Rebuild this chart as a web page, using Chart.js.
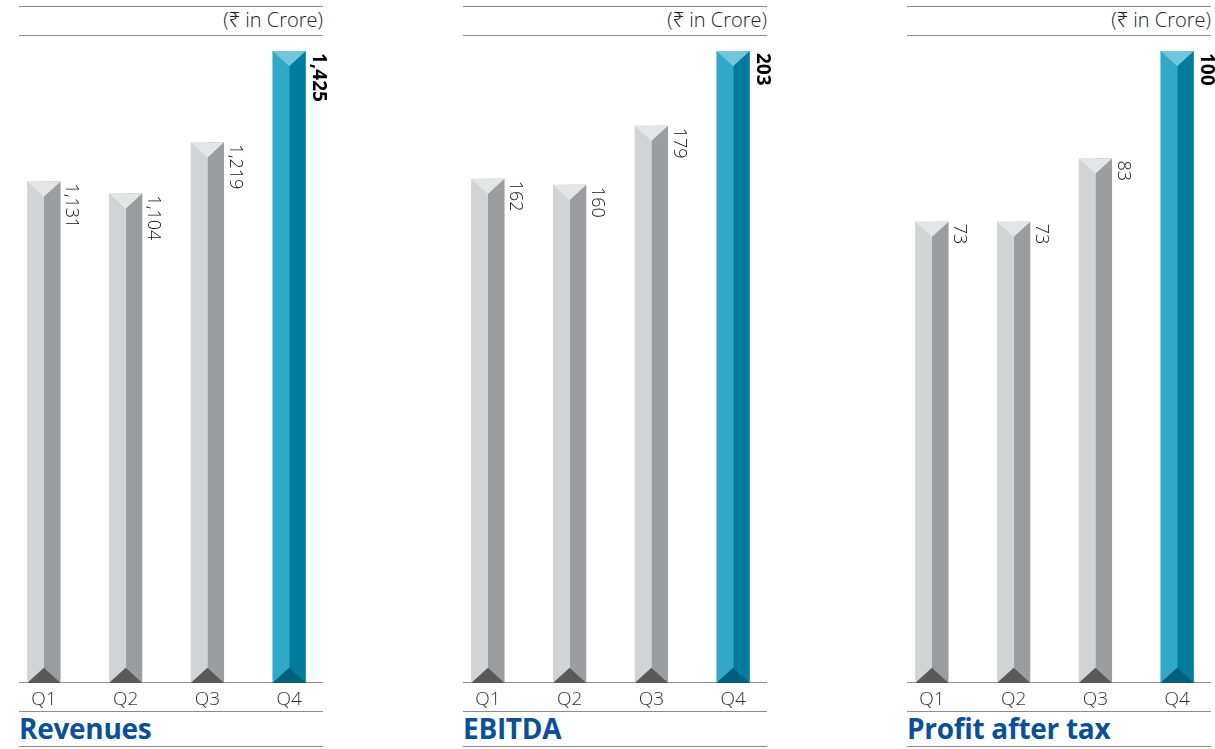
<!DOCTYPE html>
<html>
<head>
<meta charset="utf-8">
<script src="https://cdn.jsdelivr.net/npm/chart.js@4.4.1/dist/chart.umd.min.js"></script>
<style>
    body { margin: 0; width: 1215px; height: 749px; overflow: hidden; background: #fff; position: relative; font-family: "Open Sans", "Noto Sans", sans-serif; }
    .painel { position: absolute; top: 0; width: 304px; height: 749px; }
    .linha { position: absolute; left: 0; width: 304px; height: 1px; background: #8a8a8a; }
    .unidade { position: absolute; right: 0; top: 6px; font-size: 20px; font-weight: 300; color: #222; white-space: nowrap; }
    .titulo { position: absolute; left: 0; top: 709px; font-size: 28px; font-weight: 700; color: #0b4f95; letter-spacing: -0.3px; white-space: nowrap; }
    .painel canvas { position: absolute; left: -16px; top: 0; }
</style>
</head>
<body>
<script>
var trimestres = ['Q1', 'Q2', 'Q3', 'Q4'];
var receitas = [1131, 1104, 1219, 1425];
var ebitda = [162, 160, 179, 203];
var lucro = [73, 73, 83, 100];
var titulos = ['Revenues', 'EBITDA', 'Profit after tax'];
var unidade = '(\u20B9 in Crore)';
var posicoes = [19, 463, 907];

var cinza = { esq: '#d2d3d5', dir: '#9c9da0', topo: '#e4e5e6', base: '#58595b' };
var azul = { esq: '#30a8c8', dir: '#017c9e', topo: '#72c6dc', base: '#025f7b' };

function formataValor(v) {
    return v.toLocaleString('en-US');
}

var prisma = {
    id: 'prisma',
    afterDatasetsDraw(chart) {
        var ctx = chart.ctx;
        var m0 = chart.getDatasetMeta(0);
        var m1 = chart.getDatasetMeta(1);
        var valores = chart.data.datasets[0].data;
        for (let i = 0; i < m0.data.length; i++) {
            var l = m0.data[i], r = m1.data[i];
            var x0 = l.x - l.width / 2;
            var x1 = r.x + r.width / 2;
            var cx = (x0 + x1) / 2;
            var topo = l.y, base = l.base;
            var d = (x1 - x0) * 0.46;
            var ultimo = i == m0.data.length - 1;
            var cor = ultimo ? azul : cinza;

            ctx.save();
            ctx.fillStyle = cor.topo;
            ctx.beginPath();
            ctx.moveTo(x0, topo); ctx.lineTo(x1, topo); ctx.lineTo(cx, topo + d);
            ctx.closePath(); ctx.fill();

            ctx.fillStyle = cor.base;
            ctx.beginPath();
            ctx.moveTo(x0, base); ctx.lineTo(x1, base); ctx.lineTo(cx, base - d);
            ctx.closePath(); ctx.fill();

            // rotulo de valor, girado
            ctx.translate(x1 + (ultimo ? 13 : 11), topo + 2);
            ctx.rotate(Math.PI / 2);
            ctx.font = (ultimo ? '700 19px ' : '300 18px ') + '"Open Sans", "Noto Sans", sans-serif';
            ctx.fillStyle = ultimo ? '#000' : '#111';
            ctx.textAlign = 'left';
            ctx.textBaseline = 'middle';
            ctx.fillText(formataValor(valores[i]), 0, 0);
            ctx.restore();
        }
    }
};

function criarPainel(n, valores) {
    var div = document.createElement('div');
    div.className = 'painel';
    div.style.left = posicoes[n] + 'px';
    document.body.appendChild(div);

    [6, 35, 682, 711, 746].forEach(function (y) {
        var ln = document.createElement('div');
        ln.className = 'linha';
        ln.style.top = y + 'px';
        div.appendChild(ln);
    });

    var u = document.createElement('div');
    u.className = 'unidade';
    u.textContent = unidade;
    div.appendChild(u);

    var t = document.createElement('div');
    t.className = 'titulo';
    t.textContent = titulos[n];
    div.appendChild(t);

    var cv = document.createElement('canvas');
    cv.width = 327;
    cv.height = 711;
    div.appendChild(cv);

    var coresEsq = valores.map(function (v, i) { return i == valores.length - 1 ? azul.esq : cinza.esq; });
    var coresDir = valores.map(function (v, i) { return i == valores.length - 1 ? azul.dir : cinza.dir; });

    new Chart(cv, {
        type: 'bar',
        data: {
            labels: trimestres,
            datasets: [
                { data: valores, backgroundColor: coresEsq, borderWidth: 0, categoryPercentage: 0.408, barPercentage: 1 },
                { data: valores, backgroundColor: coresDir, borderWidth: 0, categoryPercentage: 0.408, barPercentage: 1 }
            ]
        },
        options: {
            responsive: false,
            devicePixelRatio: 1,
            animation: false,
            layout: { padding: { top: 51, left: 0, right: 0, bottom: 0 } },
            plugins: { legend: { display: false }, tooltip: { enabled: false } },
            scales: {
                x: {
                    grid: { display: false },
                    border: { display: false },
                    afterFit: function (scale) { scale.height = 28; },
                    ticks: {
                        maxRotation: 0,
                        padding: -3,
                        color: '#333',
                        font: { family: '"Open Sans", "Noto Sans", sans-serif', size: 19, weight: 300, lineHeight: 1.2 }
                    }
                },
                y: {
                    display: false,
                    min: 0,
                    max: Math.max.apply(null, valores)
                }
            }
        },
        plugins: [prisma]
    });
}

criarPainel(0, receitas);
criarPainel(1, ebitda);
criarPainel(2, lucro);
</script>
</body>
</html>
